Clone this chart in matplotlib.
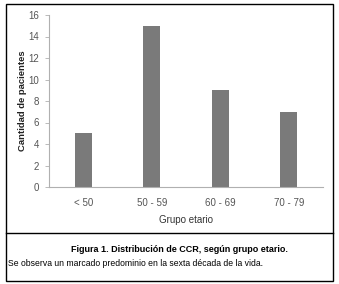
import matplotlib.pyplot as plt
from matplotlib.patches import Rectangle
from matplotlib.lines import Line2D

# data
grupos = ['< 50', '50 - 59', '60 - 69', '70 - 79']
pacientes = [5, 15, 9, 7]
yticks = [0, 2, 4, 6, 8, 10, 12, 14, 16]

plt.rcParams['font.family'] = ['Liberation Sans', 'DejaVu Sans']

W, H = 339, 284
fig = plt.figure(figsize=(W / 100, H / 100), dpi=100)
ax = fig.add_axes([49 / W, 1 - 187 / H, 274 / W, 172 / H])

x = range(len(grupos))
ax.bar(x, pacientes, width=0.25, color='#7a7a7a')
ax.set_xlim(-0.5, 3.5)
ax.set_ylim(0, 16)
ax.set_yticks(yticks)
ax.set_xticks(list(x))
ax.set_xticklabels(grupos)
ax.tick_params(axis='y', labelsize=7, colors='#555555', length=3, width=0.6, pad=4)
ax.tick_params(axis='x', labelsize=7, colors='#555555', length=0, pad=8)
for lab in ax.get_yticklabels() + ax.get_xticklabels():
    lab.set_color('#555555')
for s in ['top', 'right']:
    ax.spines[s].set_visible(False)
for s in ['left', 'bottom']:
    ax.spines[s].set_color('#b0b0b0')
    ax.spines[s].set_linewidth(0.8)
ax.tick_params(axis='y', color='#b0b0b0')

ax.set_ylabel('Cantidad de pacientes', fontsize=6.8, fontweight='bold', color='#222222')
ax.yaxis.set_label_coords(-0.08, 0.5)
ax.set_xlabel('Grupo etario', fontsize=7, color='#333333', labelpad=5)

# frame and caption box
fig.patches.append(Rectangle((6 / W, 1 - 281 / H), 327 / W, 277 / H, transform=fig.transFigure,
                             fill=False, edgecolor='black', linewidth=1.0))
fig.lines.append(Line2D([6 / W, 333 / W], [1 - 233 / H, 1 - 233 / H], transform=fig.transFigure,
                        color='black', linewidth=1.0))

fig.text(179 / W, 1 - 250 / H, 'Figura 1. Distribución de CCR, según grupo etario.', ha='center', va='center',
         fontsize=6.5, fontweight='bold', color='black')
fig.text(8 / W, 1 - 264 / H, 'Se observa un marcado predominio en la sexta década de la vida.', ha='left', va='center',
         fontsize=6.2, color='black')

fig.savefig('out.png', dpi=100)
